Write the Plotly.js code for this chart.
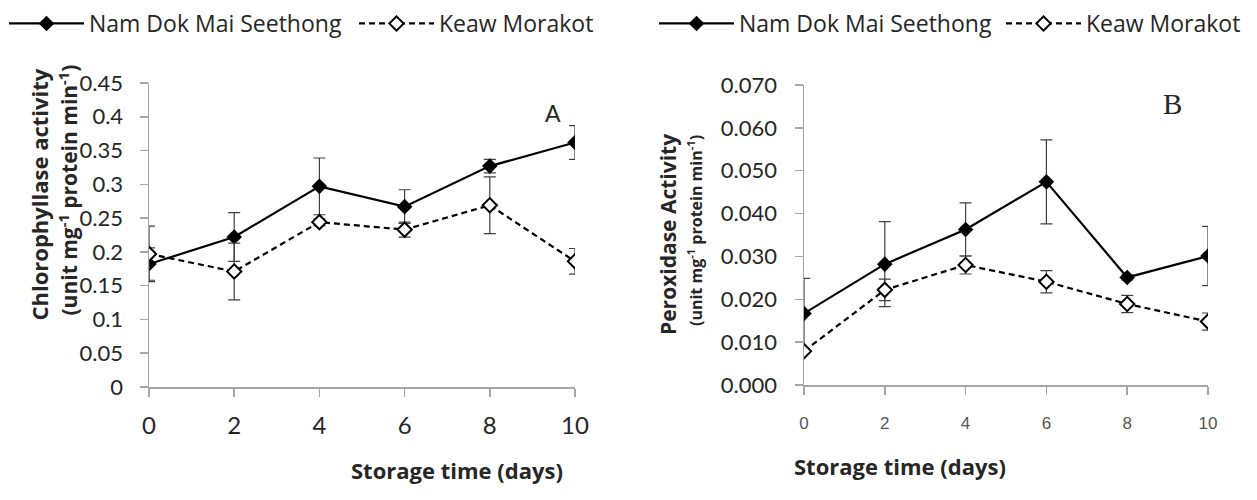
<!DOCTYPE html>
<html><head><meta charset="utf-8">
<script src="https://cdn.plot.ly/plotly-3.0.1.min.js"></script>
<style>body{margin:0;background:#fff}#c{width:1257px;height:500px}</style>
</head><body><div id="c"></div>
<script>
const days = [0, 2, 4, 6, 8, 10];
const chlNam = [0.182, 0.222, 0.297, 0.267, 0.327, 0.362];
const chlNamErr = [0.024, 0.036, 0.042, 0.025, 0.010, 0.025];
const chlKeaw = [0.197, 0.171, 0.244, 0.233, 0.269, 0.186];
const chlKeawErr = [0.041, 0.042, 0.005, 0.011, 0.042, 0.019];
const podNam = [0.0167, 0.0282, 0.0363, 0.0474, 0.0251, 0.0301];
const podNamErr = [0.0082, 0.0099, 0.0062, 0.0098, 0.0006, 0.0069];
const podKeaw = [0.0079, 0.0222, 0.0280, 0.0241, 0.0189, 0.0148];
const podKeawErr = [0.0006, 0.0025, 0.0021, 0.0026, 0.0020, 0.0020];
const seriesNames = ['Nam Dok Mai Seethong', 'Keaw Morakot'];

const errStyle = {type: 'data', visible: true, color: '#404040', thickness: 1.2, width: 6};
function namTrace(y, e, xa, ya, lg) {
  return {x: days, y: y, xaxis: xa, yaxis: ya, legend: lg, name: seriesNames[0], type: 'scatter', mode: 'lines+markers',
    line: {color: '#000', width: 2.2}, marker: {symbol: 'diamond', size: 12, color: '#000'},
    error_y: Object.assign({array: e}, errStyle)};
}
function keawTrace(y, e, xa, ya, lg) {
  return {x: days, y: y, xaxis: xa, yaxis: ya, legend: lg, name: seriesNames[1], type: 'scatter', mode: 'lines+markers',
    line: {color: '#000', width: 2.2, dash: '6px,4px'}, marker: {symbol: 'diamond', size: 11, color: '#fff', line: {color: '#000', width: 2}},
    error_y: Object.assign({array: e}, errStyle)};
}
const data = [
  namTrace(chlNam, chlNamErr, 'x', 'y', 'legend'),
  keawTrace(chlKeaw, chlKeawErr, 'x', 'y', 'legend2'),
  namTrace(podNam, podNamErr, 'x2', 'y2', 'legend3'),
  keawTrace(podKeaw, podKeawErr, 'x2', 'y2', 'legend4')
];
const axCommon = {showgrid: false, zeroline: false, showline: true, linecolor: '#a6a6a6', linewidth: 1.5,
  ticks: 'outside', tickcolor: '#a6a6a6', tickwidth: 1.5, ticklen: 8, fixedrange: true};
const yTick = {family: 'Lato, Carlito, Calibri, sans-serif', size: 22, color: '#262626'};
const legFont = {family: 'Open Sans, sans-serif', size: 23, color: '#262626'};
const titleFont = {family: 'Open Sans, sans-serif', size: 21, color: '#262626'};
function leg(px) {
  return {orientation: 'h', x: px/1257, y: 1 - 2/500, xanchor: 'left', yanchor: 'top', itemwidth: 75,
    font: legFont, bgcolor: 'rgba(0,0,0,0)'};
}
const layout = {
  width: 1257, height: 500, margin: {l: 0, r: 0, t: 0, b: 0},
  paper_bgcolor: '#fff', plot_bgcolor: '#fff',
  font: {family: 'Lato, sans-serif', color: '#262626'},
  xaxis: Object.assign({}, axCommon, {domain: [149/1257, 575/1257], range: [0, 10], tickvals: days, ticklabelstandoff: 9,
    tickfont: {family: 'Lato, Carlito, Calibri, sans-serif', size: 24, color: '#262626'}, anchor: 'y'}),
  yaxis: Object.assign({}, axCommon, {domain: [1-387/500, 1-83/500], range: [0, 0.45], dtick: 0.05, ticklabelstandoff: 12,
    tickfont: yTick, anchor: 'x'}),
  xaxis2: Object.assign({}, axCommon, {domain: [804/1257, 1208/1257], range: [0, 10], tickvals: days, ticklabelstandoff: 14,
    tickfont: {family: 'Liberation Sans, Arial, sans-serif', size: 17, color: '#555'}, anchor: 'y2'}),
  yaxis2: Object.assign({}, axCommon, {domain: [1-385/500, 1-85/500], range: [0, 0.07], dtick: 0.01, tickformat: '.3f',
    ticklabelstandoff: 13, tickfont: yTick, anchor: 'x2'}),
  showlegend: true,
  legend: leg(4),
  legend2: leg(354),
  legend3: leg(654),
  legend4: leg(1001),
  annotations: [
    {text: '<b>Chlorophyllase activity</b>', xref: 'paper', yref: 'paper', x: 21.5/1257, y: 1-195/500, textangle: -90,
      showarrow: false, font: {family: 'Open Sans, sans-serif', size: 22, color: '#262626'}},
    {text: '<b>(unit mg<sup>-1</sup> protein min<sup>-1</sup>)</b>', xref: 'paper', yref: 'paper', x: 50/1257, y: 1-190/500, textangle: -90,
      showarrow: false, font: titleFont},
    {text: '<b>Peroxidase Activity</b>', xref: 'paper', yref: 'paper', x: 668/1257, y: 1-235/500, textangle: -90,
      showarrow: false, font: titleFont},
    {text: '<b>(unit mg<sup>-1</sup> protein min<sup>-1</sup>)</b>', xref: 'paper', yref: 'paper', x: 695/1257, y: 1-231/500, textangle: -90,
      showarrow: false, font: {family: 'Open Sans, sans-serif', size: 16, color: '#262626'}},
    {text: '<b>Storage time (days)</b>', xref: 'paper', yref: 'paper', x: 349/1257, y: 1-487/500,
      showarrow: false, font: {family: 'Open Sans, sans-serif', size: 22, color: '#262626'}},
    {text: '<b>Storage time (days)</b>', xref: 'paper', yref: 'paper', x: 1008/1257, y: 1-483/500,
      showarrow: false, font: {family: 'Open Sans, sans-serif', size: 22, color: '#262626'}},
    {text: 'A', xref: 'paper', yref: 'paper', x: 553/1257, y: 1-97/500,
      showarrow: false, font: {family: 'Lato, sans-serif', size: 23, color: '#262626'}},
    {text: 'B', xref: 'paper', yref: 'paper', x: 1184/1257, y: 1-86/500,
      showarrow: false, font: {family: 'Liberation Serif, serif', size: 29, color: '#262626'}}
  ]
};
Plotly.newPlot('c', data, layout, {displayModeBar: false, staticPlot: true});
</script>
</body></html>
